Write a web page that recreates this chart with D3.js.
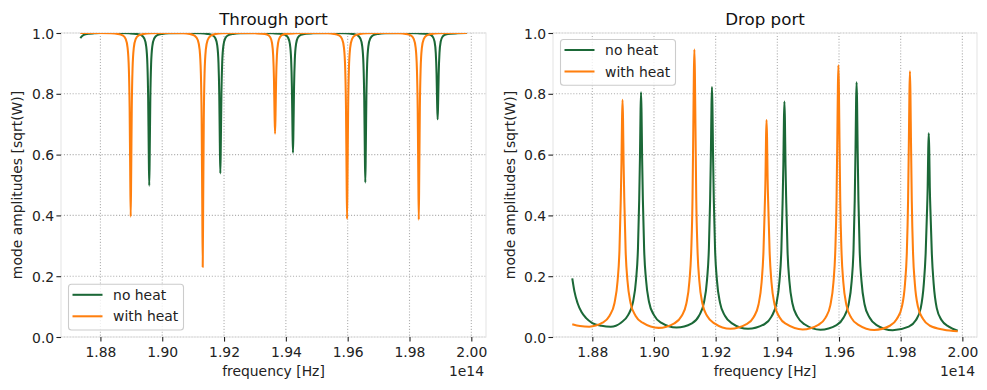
<!DOCTYPE html>
<html><head><meta charset="utf-8">
<script src="https://cdn.jsdelivr.net/npm/d3@7"></script>
<style>body{margin:0;background:#fff} svg text{font-family:"DejaVu Sans",sans-serif}</style>
</head><body><svg id="c" width="987" height="390"></svg>
<script>
// ---------- data (frequency in units of 1e14 Hz) ----------
const freqNoHeat = [1.8735,1.8742,1.8752,1.8765,1.8780,1.8800,1.8830,1.8860,
 1.8893,1.8916,1.8932,1.8942,1.8948,1.8952,1.89545,1.89564,1.8958,1.89596,1.89615,1.8964,1.8968,1.8974,1.8984,1.9000,1.9023,
 1.9073,
 1.9123,1.9146,1.9162,1.9172,1.9178,1.9182,1.91845,1.91864,1.9188,1.91896,1.91915,1.9194,1.9198,1.9204,1.9214,1.9230,1.9253,
 1.9305,
 1.9358,1.9381,1.9397,1.9407,1.9413,1.9417,1.94195,1.94214,1.9423,1.94246,1.94265,1.9429,1.9433,1.9439,1.9449,1.9465,1.9488,
 1.9540,
 1.9592,1.9615,1.9631,1.9641,1.9647,1.9651,1.96535,1.96554,1.9657,1.96586,1.96605,1.9663,1.9667,1.9673,1.9683,1.9699,1.9722,
 1.9774,
 1.9826,1.9849,1.9865,1.9875,1.9881,1.9885,1.98875,1.98894,1.9891,1.98926,1.98945,1.9897,1.9901,1.9907,1.9917,1.9933,1.9956,
 1.9985];
const throughNoHeat = [0.983,0.991,0.996,0.998,0.999,1.0,1.0,1.0,
 0.999,0.997,0.993,0.982,0.957,0.897,0.785,0.610,0.498,0.610,0.785,0.897,0.957,0.982,0.993,0.997,0.999,
 1.0,
 0.999,0.997,0.993,0.983,0.959,0.902,0.799,0.637,0.538,0.637,0.799,0.902,0.959,0.983,0.993,0.997,0.999,
 1.0,
 0.999,0.998,0.994,0.985,0.964,0.914,0.823,0.686,0.606,0.686,0.823,0.914,0.964,0.985,0.994,0.998,0.999,
 1.0,
 0.999,0.997,0.993,0.982,0.957,0.898,0.789,0.616,0.508,0.616,0.789,0.898,0.957,0.982,0.993,0.997,0.999,
 1.0,
 0.999,0.998,0.995,0.988,0.972,0.934,0.867,0.770,0.716,0.770,0.867,0.934,0.972,0.988,0.995,0.998,0.999,
 1.0];
const dropNoHeat = [0.193,0.150,0.112,0.082,0.062,0.046,0.037,0.034,
 0.047,0.072,0.115,0.190,0.290,0.450,0.590,0.740,0.805,0.740,0.590,0.450,0.290,0.190,0.115,0.072,0.047,
 0.031,
 0.045,0.070,0.113,0.188,0.290,0.450,0.600,0.756,0.822,0.756,0.600,0.450,0.290,0.188,0.113,0.070,0.045,
 0.027,
 0.042,0.067,0.110,0.185,0.285,0.440,0.566,0.713,0.775,0.713,0.566,0.440,0.285,0.185,0.110,0.067,0.042,
 0.024,
 0.039,0.064,0.107,0.183,0.285,0.450,0.612,0.771,0.838,0.771,0.612,0.450,0.285,0.183,0.107,0.064,0.039,
 0.022,
 0.034,0.055,0.095,0.175,0.275,0.400,0.490,0.616,0.670,0.616,0.490,0.400,0.275,0.175,0.095,0.055,0.034,
 0.021];

const freqHeat = [1.8735,1.8760,1.8790,
 1.8833,1.8856,1.8872,1.8882,1.8888,1.8892,1.88945,1.88964,1.8898,1.88996,1.89015,1.8904,1.8908,1.8914,1.8924,1.8940,1.8963,
 1.9015,
 1.9066,1.9089,1.9105,1.9115,1.9121,1.9125,1.91275,1.91294,1.9131,1.91326,1.91345,1.9137,1.9141,1.9147,1.9157,1.9173,1.9196,
 1.9248,
 1.9300,1.9323,1.9339,1.9349,1.9355,1.9359,1.93615,1.93634,1.9365,1.93666,1.93685,1.9371,1.9375,1.9381,1.9391,1.9407,1.9430,
 1.9482,
 1.9533,1.9556,1.9572,1.9582,1.9588,1.9592,1.95945,1.95964,1.9598,1.95996,1.96015,1.9604,1.9608,1.9614,1.9624,1.9640,1.9663,
 1.9714,
 1.9765,1.9788,1.9804,1.9814,1.9820,1.9824,1.98265,1.98284,1.9830,1.98316,1.98335,1.9836,1.9840,1.9846,1.9856,1.9872,1.9895,
 1.9940,1.9985];
const throughHeat = [1.0,1.0,1.0,
 0.999,0.997,0.992,0.980,0.951,0.883,0.756,0.544,0.396,0.544,0.756,0.883,0.951,0.980,0.992,0.997,0.999,
 1.0,
 0.999,0.997,0.991,0.977,0.945,0.868,0.720,0.457,0.230,0.457,0.720,0.868,0.945,0.977,0.991,0.997,0.999,
 1.0,
 0.999,0.998,0.995,0.987,0.968,0.925,0.848,0.734,0.669,0.734,0.848,0.925,0.968,0.987,0.995,0.998,0.999,
 1.0,
 0.999,0.997,0.992,0.980,0.951,0.882,0.754,0.541,0.388,0.541,0.754,0.882,0.951,0.980,0.992,0.997,0.999,
 1.0,
 0.999,0.997,0.992,0.980,0.951,0.881,0.753,0.540,0.386,0.540,0.753,0.881,0.951,0.980,0.992,0.997,0.999,
 1.0,1.0];
const dropHeat = [0.042,0.036,0.034,
 0.047,0.070,0.112,0.185,0.285,0.440,0.570,0.718,0.780,0.718,0.570,0.440,0.285,0.185,0.112,0.070,0.047,
 0.030,
 0.045,0.068,0.110,0.185,0.290,0.460,0.690,0.870,0.946,0.870,0.690,0.460,0.290,0.185,0.110,0.068,0.045,
 0.027,
 0.042,0.065,0.107,0.180,0.280,0.420,0.520,0.657,0.714,0.657,0.520,0.420,0.280,0.180,0.107,0.065,0.042,
 0.025,
 0.040,0.063,0.105,0.180,0.285,0.450,0.653,0.822,0.894,0.822,0.653,0.450,0.285,0.180,0.105,0.063,0.040,
 0.023,
 0.037,0.060,0.100,0.175,0.280,0.450,0.638,0.804,0.874,0.804,0.638,0.450,0.280,0.175,0.100,0.060,0.037,
 0.024,0.019];

const seriesNames = ["no heat", "with heat"];
const xTicks = [1.88, 1.90, 1.92, 1.94, 1.96, 1.98, 2.00];
const yTicks = [0.0, 0.2, 0.4, 0.6, 0.8, 1.0];
const titles = ["Through port", "Drop port"];

// ---------- styles / layout ----------
const colors = ["#1b6837", "#ff7f0e"];
const FS = 13.9;
const panels = [
  {left: 61, right: 486, top: 33, bottom: 337, title: titles[0],
   series: [[freqNoHeat, throughNoHeat], [freqHeat, throughHeat]], legend: "lower left", ylabX: 22},
  {left: 553, right: 977, top: 33, bottom: 337, title: titles[1],
   series: [[freqNoHeat, dropNoHeat], [freqHeat, dropHeat]], legend: "upper left", ylabX: 514.5}
];

const svg = d3.select("#c");
svg.append("rect").attr("width", 987).attr("height", 390).attr("fill", "#fff");

const allF = freqNoHeat.concat(freqHeat);
const [fmin, fmax] = d3.extent(allF);
const pad = (fmax - fmin) * 0.05;

panels.forEach((p, i) => {
  const x = d3.scaleLinear().domain([fmin - pad, fmax + pad]).range([p.left, p.right]);
  const y = d3.scaleLinear().domain([0, 1]).range([p.bottom, p.top]);
  const g = svg.append("g");

  // grid
  g.selectAll("line.gx").data(xTicks).join("line")
    .attr("x1", d => x(d)).attr("x2", d => x(d)).attr("y1", p.top).attr("y2", p.bottom)
    .attr("stroke", "#b0b0b0").attr("stroke-width", 1.1).attr("stroke-dasharray", "1.1,1.8");
  g.selectAll("line.gy").data(yTicks).join("line")
    .attr("y1", d => y(d)).attr("y2", d => y(d)).attr("x1", p.left).attr("x2", p.right)
    .attr("stroke", "#b0b0b0").attr("stroke-width", 1.1).attr("stroke-dasharray", "1.1,1.8");

  // spines
  g.append("rect").attr("x", p.left).attr("y", p.top)
    .attr("width", p.right - p.left).attr("height", p.bottom - p.top)
    .attr("fill", "none").attr("stroke", "#e6e6e6").attr("stroke-width", 1.1);

  // clip
  const cid = "clip" + i;
  svg.append("clipPath").attr("id", cid).append("rect")
    .attr("x", p.left).attr("y", p.top).attr("width", p.right - p.left).attr("height", p.bottom - p.top);

  const line = d3.line().x(d => x(d[0])).y(d => y(d[1])).curve(d3.curveMonotoneX);
  const lg = g.append("g").attr("clip-path", `url(#${cid})`);
  p.series.forEach((s, k) => {
    lg.append("path").attr("d", line(d3.zip(s[0], s[1])))
      .attr("fill", "none").attr("stroke", colors[k]).attr("stroke-width", 2.05)
      .attr("stroke-linejoin", "round");
  });

  // axes ticks
  const xa = d3.axisBottom(x).tickValues(xTicks).tickFormat(d3.format(".2f")).tickSize(4.6).tickPadding(6);
  const ax = g.append("g").attr("transform", `translate(0,${p.bottom})`).call(xa);
  const ya = d3.axisLeft(y).tickValues(yTicks).tickFormat(d3.format(".1f")).tickSize(4.6).tickPadding(2.2);
  const ay = g.append("g").attr("transform", `translate(${p.left},0)`).call(ya);
  [ax, ay].forEach(a => {
    a.select(".domain").remove();
    a.selectAll(".tick line").attr("stroke", "#222").attr("stroke-width", 1.1);
    a.selectAll(".tick text").attr("fill", "#222").attr("font-size", FS)
      .attr("font-family", "DejaVu Sans");
  });
  ax.selectAll(".tick text").attr("dy", null).attr("y", 20);
  ay.selectAll(".tick text").attr("dy", "0.36em");

  // title
  g.append("text").attr("x", (p.left + p.right) / 2).attr("y", 24.5)
    .attr("text-anchor", "middle").attr("font-size", 16.7).attr("fill", "#111").text(p.title);
  // x label
  g.append("text").attr("x", (p.left + p.right) / 2).attr("y", 376)
    .attr("text-anchor", "middle").attr("font-size", FS).attr("fill", "#222").text("frequency [Hz]");
  g.append("text").attr("x", p.right - 2).attr("y", 376)
    .attr("text-anchor", "end").attr("font-size", FS).attr("fill", "#222").text("1e14");
  // y label
  g.append("text").attr("transform", `translate(${p.ylabX},${(p.top + p.bottom) / 2}) rotate(-90)`)
    .attr("text-anchor", "middle").attr("font-size", FS).attr("fill", "#222").text("mode amplitudes [sqrt(W)]");

  // legend
  const lw = 115, lh = 45.7;
  const lx = p.left + 7.5;
  const ly = p.legend === "lower left" ? p.bottom - 7 - lh : p.top + 6.5;
  const leg = g.append("g");
  leg.append("rect").attr("x", lx).attr("y", ly).attr("width", lw).attr("height", lh)
    .attr("rx", 3).attr("fill", "#fff").attr("fill-opacity", 0.8)
    .attr("stroke", "#cccccc").attr("stroke-width", 1.1);
  seriesNames.forEach((name, k) => {
    const ry = ly + 10.5 + k * 21.5;
    leg.append("line").attr("x1", lx + 4).attr("x2", lx + 34).attr("y1", ry).attr("y2", ry)
      .attr("stroke", colors[k]).attr("stroke-width", 2.05);
    leg.append("text").attr("x", lx + 44.6).attr("y", ry + 5).attr("font-size", FS)
      .attr("fill", "#222").text(name);
  });
});
</script>
</body></html>
